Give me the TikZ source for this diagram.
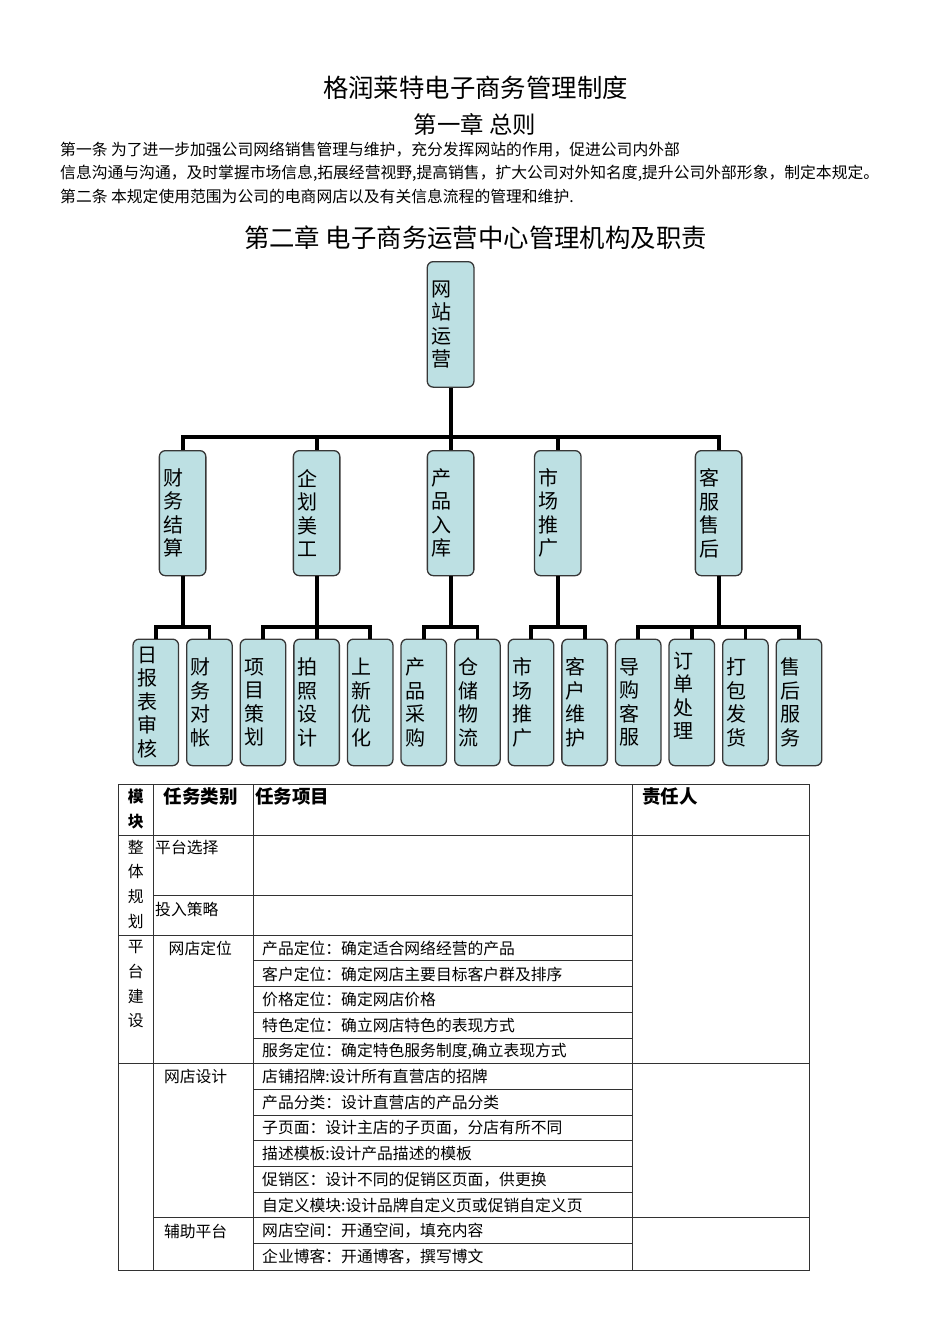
\documentclass[tikz,border=0pt]{standalone}
\usepackage{fontspec}
\setmainfont{Noto Sans CJK SC}
\definecolor{boxfill}{RGB}{189,224,227}
\definecolor{boxline}{RGB}{55,55,55}
\definecolor{tblline}{RGB}{50,50,50}
\begin{document}
\begin{tikzpicture}[x=1pt,y=-1pt,
  txt/.style={inner sep=0pt},
  orgbox/.style={draw=boxline, line width=1.3pt, fill=boxfill, rounded corners=6pt,
    minimum height=125pt, text width=38.5pt, inner xsep=4pt, inner ysep=0pt,
    align=left, font=\fontsize{20}{23.5}\selectfont, anchor=north},
  leafbox/.style={orgbox, text width=37.5pt, minimum height=126.5pt},
  conn/.style={line width=3.8pt, black, line join=miter},
  tbl/.style={line width=1pt, draw=tblline},
  body/.style={txt, font=\fontsize{15.8}{24.7}\selectfont},
  head/.style={txt, font=\fontsize{18.5}{25}\selectfont\bfseries}
]
\useasboundingbox[fill=white] (0,0) rectangle (950,1344);

% ---------- headings ----------
\node[txt, font=\fontsize{25.4}{30}\selectfont] (title) at (475.5,88) {格润莱特电子商务管理制度};
\node[txt, font=\fontsize{23.4}{28}\selectfont] (ch1) at (475,124) {第一章 总则};
\node[body, anchor=west] (p1) at (60,150) {第一条 为了进一步加强公司网络销售管理与维护，充分发挥网站的作用，促进公司内外部};
\node[body, anchor=west] (p2) at (60,173) {信息沟通与沟通，及时掌握市场信息,拓展经营视野,提高销售，扩大公司对外知名度,提升公司外部形象，制定本规定。};
\node[body, anchor=west] (p3) at (60,196) {第二条 本规定使用范围为公司的电商网店以及有关信息流程的管理和维护.};
\node[txt, font=\fontsize{25.4}{30}\selectfont] (ch2) at (475.5,238) {第二章 电子商务运营中心管理机构及职责};

% ---------- org chart ----------
\node[orgbox, minimum height=125.5pt, text width=38.7pt] (root) at (450.6,261) {网\\站\\运\\营};

\node[orgbox] (cw) at (182.6,450) {财\\务\\结\\算};
\node[orgbox] (qh) at (316.6,450) {企\\划\\美\\工};
\node[orgbox] (cp) at (450.6,450) {产\\品\\入\\库};
\node[orgbox] (sc) at (557.8,450) {市\\场\\推\\广};
\node[orgbox] (kf) at (718.6,450) {客\\服\\售\\后};

\node[leafbox] (l1)  at (155.8,638.5) {日\\报\\表\\审\\核};
\node[leafbox] (l2)  at (209.4,638.5) {财\\务\\对\\帐};
\node[leafbox] (l3)  at (263.0,638.5) {项\\目\\策\\划};
\node[leafbox] (l4)  at (316.6,638.5) {拍\\照\\设\\计};
\node[leafbox] (l5)  at (370.2,638.5) {上\\新\\优\\化};
\node[leafbox] (l6)  at (423.8,638.5) {产\\品\\采\\购};
\node[leafbox] (l7)  at (477.4,638.5) {仓\\储\\物\\流};
\node[leafbox] (l8)  at (531.0,638.5) {市\\场\\推\\广};
\node[leafbox] (l9)  at (584.6,638.5) {客\\户\\维\\护};
\node[leafbox] (l10) at (638.2,638.5) {导\\购\\客\\服};
\node[leafbox] (l11) at (691.8,638.5) {订\\单\\处\\理\\[-9pt]\mbox{}};
\node[leafbox] (l12) at (745.4,638.5) {打\\包\\发\\货};
\node[leafbox] (l13) at (799.0,638.5) {售\\后\\服\\务};

\coordinate (b0) at (450.6,437.3);
\draw[conn] (root.south) -- (b0);
\foreach \n in {cw,qh,cp,sc,kf} \draw[conn] (b0) -| (\n.north);

\coordinate (g1) at (182.6,626.7);
\coordinate (g2) at (316.6,626.7);
\coordinate (g3) at (450.6,626.7);
\coordinate (g4) at (557.8,626.7);
\coordinate (g5) at (718.6,626.7);
\draw[conn] (cw.south) -- (g1);
\draw[conn] (qh.south) -- (g2);
\draw[conn] (cp.south) -- (g3);
\draw[conn] (sc.south) -- (g4);
\draw[conn] (kf.south) -- (g5);
\foreach \n in {l1,l2} \draw[conn] (g1) -| (\n.north);
\foreach \n in {l3,l4,l5} \draw[conn] (g2) -| (\n.north);
\foreach \n in {l6,l7} \draw[conn] (g3) -| (\n.north);
\foreach \n in {l8,l9} \draw[conn] (g4) -| (\n.north);
\foreach \n in {l10,l11,l12,l13} \draw[conn] (g5) -| (\n.north);

% ---------- table ----------
\draw[tbl] (118,784.5) rectangle (809,1270.7);
\draw[tbl] (153.8,784.5) -- (153.8,1270.7);
\draw[tbl] (253.5,784.5) -- (253.5,1270.7);
\draw[tbl] (632.5,784.5) -- (632.5,1270.7);
\draw[tbl] (118,835) -- (809,835);
\draw[tbl] (153.8,895.5) -- (632.5,895.5);
\draw[tbl] (118,935) -- (632.5,935);
\foreach \y in {960.7,986.5,1012.3,1038} \draw[tbl] (253.5,\y) -- (632.5,\y);
\draw[tbl] (118,1063.5) -- (809,1063.5);
\foreach \y in {1089.3,1115,1140.8,1166.7,1192.3} \draw[tbl] (253.5,\y) -- (632.5,\y);
\draw[tbl] (153.8,1217.7) -- (809,1217.7);
\draw[tbl] (253.5,1243.3) -- (632.5,1243.3);

% header
\node[txt, font=\fontsize{15.8}{25}\selectfont\bfseries, anchor=north, align=center] (hmk) at (135.8,788.8) {模\\块};
\node[head, anchor=west] (hlb) at (163.5,796.7) {任务类别};
\node[head, anchor=west] (hxm) at (255,796.7) {任务项目};
\node[head, anchor=west] (hzr) at (642,796.7) {责任人};

% module column
\node[body, anchor=north, align=center] (m1) at (135.8,839.8) {整\\体\\规\\划};
\node[body, anchor=north, align=center] (m2) at (135.8,940.4) {平\\台\\建\\设};

% category column
\node[body, anchor=west] (c1) at (155,847.7) {平台选择};
\node[body, anchor=west] (c2) at (155,909) {投入策略};
\node[body, anchor=west] (c3) at (168.5,948.3) {网店定位};
\node[body, anchor=west] (c4) at (163.8,1076.7) {网店设计};
\node[body, anchor=west] (c5) at (163.8,1231.7) {辅助平台};

% item column
\node[body, anchor=west] (t1)  at (262,948.3)  {产品定位：确定适合网络经营的产品};
\node[body, anchor=west] (t2)  at (262,974.0)  {客户定位：确定网店主要目标客户群及排序};
\node[body, anchor=west] (t3)  at (262,999.5)  {价格定位：确定网店价格};
\node[body, anchor=west] (t4)  at (262,1025.2) {特色定位：确立网店特色的表现方式};
\node[body, anchor=west] (t5)  at (262,1050.8) {服务定位：确定特色服务制度,确立表现方式};
\node[body, anchor=west] (t6)  at (262,1076.7) {店铺招牌:设计所有直营店的招牌};
\node[body, anchor=west] (t7)  at (262,1102.2) {产品分类：设计直营店的产品分类};
\node[body, anchor=west] (t8)  at (262,1128.0) {子页面：设计主店的子页面，分店有所不同};
\node[body, anchor=west] (t9)  at (262,1153.7) {描述模板:设计产品描述的模板};
\node[body, anchor=west] (t10) at (262,1179.5) {促销区：设计不同的促销区页面，供更换};
\node[body, anchor=west] (t11) at (262,1205.0) {自定义模块:设计品牌自定义页或促销自定义页};
\node[body, anchor=west] (t12) at (262,1230.5) {网店空间：开通空间，填充内容};
\node[body, anchor=west] (t13) at (262,1257.0) {企业博客：开通博客，撰写博文};
\end{tikzpicture}
\end{document}
